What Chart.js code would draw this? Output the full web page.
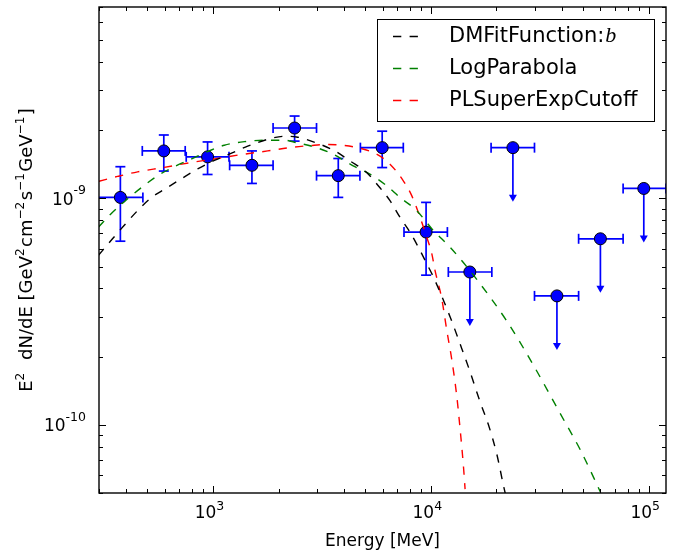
<!DOCTYPE html>
<html>
<head>
<meta charset="utf-8">
<script src="https://cdn.jsdelivr.net/npm/chart.js@4.4.1/dist/chart.umd.min.js"></script>
<style>
  body { margin: 0; background: #fff; }
  #wrap { width: 678px; height: 552px; }
</style>
</head>
<body>
<div id="wrap"><canvas id="sedChart" width="678" height="552"></canvas></div>
<script>
// flux points (MeV, GeV cm^-2 s^-1)
const pointEnergy = [376, 595, 945, 1510, 2370, 3760, 5980, 9510, 15100, 23800, 37900, 60000, 94900];
const pointFlux   = [1.01e-9, 1.62e-9, 1.525e-9, 1.40e-9, 2.045e-9, 1.26e-9, 1.675e-9, 7.1e-10, 4.73e-10, 1.675e-9, 3.71e-10, 6.63e-10, 1.106e-9];
const energyLow   = [296, 474, 754, 1193, 1888, 2988, 4750, 7530, 12030, 18900, 29900, 47660, 76270];
const energyHigh  = [477, 746, 1185, 1888, 2988, 4726, 7475, 11910, 19050, 29900, 47660, 76270, 120000];
const fluxLow     = [6.47e-10, 1.32e-9, 1.275e-9, 1.164e-9, 1.79e-9, 1.01e-9, 1.368e-9, 4.58e-10, null, null, null, null, null];
const fluxHigh    = [1.38e-9, 1.905e-9, 1.775e-9, 1.62e-9, 2.31e-9, 1.50e-9, 1.98e-9, 9.6e-10, null, null, null, null, null];
const isUpperLimit = [false, false, false, false, false, false, false, false, true, true, true, true, true];

// model curves
const dmfitEnergy = [298, 346, 391, 451, 519, 608, 713, 851, 1015, 1210, 1444, 1848, 2130, 2418, 3095, 3627, 4251, 5074, 5737, 6494, 7218, 8025, 8760, 9575, 10270, 12250, 13870, 15150, 16840, 18380, 20090, 21540, 22500];
const dmfitFlux   = [5.6e-10, 6.63e-10, 7.59e-10, 8.83e-10, 1.004e-9, 1.106e-9, 1.217e-9, 1.35e-9, 1.47e-9, 1.58e-9, 1.70e-9, 1.84e-9, 1.88e-9, 1.867e-9, 1.734e-9, 1.62e-9, 1.464e-9, 1.301e-9, 1.137e-9, 9.77e-10, 8.25e-10, 7.09e-10, 6.09e-10, 5.15e-10, 4.5e-10, 3.0e-10, 2.17e-10, 1.71e-10, 1.26e-10, 1.0e-10, 7.4e-11, 5.4e-11, 4.5e-11];

const logParEnergy = [298, 340, 405, 475, 557, 676, 792, 945, 1128, 1394, 1723, 2130, 2418, 2988, 3563, 4402, 5254, 6270, 7218, 8614, 10270, 12250, 15690, 22330, 29600, 39270, 48530, 59970];
const logParFlux   = [7.46e-10, 8.54e-10, 9.94e-10, 1.126e-9, 1.258e-9, 1.392e-9, 1.49e-9, 1.609e-9, 1.717e-9, 1.78e-9, 1.806e-9, 1.806e-9, 1.762e-9, 1.675e-9, 1.567e-9, 1.392e-9, 1.28e-9, 1.137e-9, 1.01e-9, 8.83e-10, 7.21e-10, 6.09e-10, 4.58e-10, 2.87e-10, 1.83e-10, 1.12e-10, 7.75e-11, 5.06e-11];

const plsecEnergy = [300, 365, 451, 598, 792, 1051, 1345, 1784, 2294, 2784, 3300, 3824, 4726, 5640, 6494, 7475, 8171, 8921, 9575, 10100, 10450, 11220, 11830, 12480, 13150, 13630, 14110, 14360];
const plsecFlux   = [1.19e-9, 1.25e-9, 1.31e-9, 1.37e-9, 1.44e-9, 1.50e-9, 1.56e-9, 1.62e-9, 1.68e-9, 1.71e-9, 1.73e-9, 1.72e-9, 1.665e-9, 1.567e-9, 1.416e-9, 1.196e-9, 1.028e-9, 8.25e-10, 6.74e-10, 5.7e-10, 4.81e-10, 3.61e-10, 2.62e-10, 1.94e-10, 1.34e-10, 9.54e-11, 6.58e-11, 5.2e-11];

// axes
const xMajorTicks = [1e3, 1e4, 1e5];
const xTickLabels = ['10^3', '10^4', '10^5'];
const yMajorTicks = [1e-10, 1e-9];
const yTickLabels = ['10^-10', '10^-9'];

const FONT = "'DejaVu Sans', 'Liberation Sans', sans-serif";
const BLUE = '#0000ff';
const DASH = [8.3, 8.3];

const toXY = (xs, ys) => xs.map((v, i) => ({ x: v, y: ys[i] }));

function logTicks(min, max) {
    const out = [];
    for (let e = Math.floor(Math.log10(min)); e <= Math.ceil(Math.log10(max)); e++) {
        for (let m = 1; m < 10; m++) {
            const v = m * Math.pow(10, e);
            if (v >= min * 0.999 && v <= max * 1.001) out.push({ v, major: m === 1 });
        }
    }
    return out;
}

function seg(ctx, x1, y1, x2, y2) {
    ctx.beginPath(); ctx.moveTo(x1, y1); ctx.lineTo(x2, y2); ctx.stroke();
}

// draws "10^n" as base + raised exponent
function drawPow(ctx, label, x, baseline, align, raise) {
    const [base, exp] = label.split('^');
    const bf = '17px ' + FONT, ef = '12.5px ' + FONT;
    ctx.font = bf; const wb = ctx.measureText(base).width;
    ctx.font = ef; const we = ctx.measureText(exp).width;
    let x0 = align === 'right' ? x - wb - we : x - (wb + we) / 2;
    ctx.textAlign = 'left'; ctx.textBaseline = 'alphabetic';
    ctx.font = bf; ctx.fillText(base, x0, baseline);
    ctx.font = ef; ctx.fillText(exp, x0 + wb, baseline - raise);
}

const background = {
    id: 'background',
    beforeDraw(chart) {
        const { ctx, width, height } = chart;
        ctx.save(); ctx.fillStyle = '#fff'; ctx.fillRect(0, 0, width, height); ctx.restore();
    }
};

// error bars and upper limit arrows, under the markers
const errorBars = {
    id: 'errorBars',
    beforeDatasetsDraw(chart) {
        const { ctx, chartArea: a, scales: { x, y } } = chart;
        ctx.save();
        ctx.beginPath(); ctx.rect(a.left, a.top, a.right - a.left, a.bottom - a.top); ctx.clip();
        ctx.strokeStyle = BLUE; ctx.fillStyle = BLUE; ctx.lineWidth = 1.7;
        const cap = 5;
        pointEnergy.forEach((e, i) => {
            const px = x.getPixelForValue(e), py = y.getPixelForValue(pointFlux[i]);
            const xl = x.getPixelForValue(energyLow[i]), xr = x.getPixelForValue(energyHigh[i]);
            seg(ctx, xl, py, xr, py);
            seg(ctx, xl, py - cap, xl, py + cap);
            seg(ctx, xr, py - cap, xr, py + cap);
            if (isUpperLimit[i]) {
                const tip = py + 54;
                seg(ctx, px, py, px, tip - 6);
                ctx.beginPath();
                ctx.moveTo(px - 4, tip - 7); ctx.lineTo(px + 4, tip - 7); ctx.lineTo(px, tip);
                ctx.closePath(); ctx.fill();
            } else {
                const yt = y.getPixelForValue(fluxHigh[i]), yb = y.getPixelForValue(fluxLow[i]);
                seg(ctx, px, yt, px, yb);
                seg(ctx, px - cap, yt, px + cap, yt);
                seg(ctx, px - cap, yb, px + cap, yb);
            }
        });
        ctx.restore();
    }
};

// frame, inward ticks on all sides, tick labels and axis titles
const axesFrame = {
    id: 'axesFrame',
    afterDatasetsDraw(chart) {
        const { ctx, chartArea: a, scales: { x, y } } = chart;
        ctx.save();
        ctx.strokeStyle = '#000'; ctx.lineWidth = 1;
        logTicks(x.min, x.max).forEach(t => {
            const p = Math.round(x.getPixelForValue(t.v)) + 0.5, len = t.major ? 7 : 4;
            seg(ctx, p, a.bottom, p, a.bottom - len);
            seg(ctx, p, a.top, p, a.top + len);
        });
        logTicks(y.min, y.max).forEach(t => {
            const p = Math.round(y.getPixelForValue(t.v)) + 0.5, len = t.major ? 7 : 4;
            seg(ctx, a.left, p, a.left + len, p);
            seg(ctx, a.right, p, a.right - len, p);
        });
        ctx.lineWidth = 1.4;
        ctx.strokeRect(a.left, a.top, a.right - a.left, a.bottom - a.top);

        ctx.fillStyle = '#000';
        xMajorTicks.forEach((v, i) => {
            drawPow(ctx, xTickLabels[i], x.getPixelForValue(v) - 3.5, a.bottom + 25, 'center', 8.5);
        });
        yMajorTicks.forEach((v, i) => {
            drawPow(ctx, yTickLabels[i], a.left - 13, y.getPixelForValue(v) + 6.5, 'right', 10.5);
        });

        // x title
        ctx.font = '17px ' + FONT; ctx.textAlign = 'center'; ctx.textBaseline = 'alphabetic';
        ctx.fillText('Energy [MeV]', (a.left + a.right) / 2, 546);

        // y title with superscripts
        const parts = [['E', 0], ['2', 1], ['  dN/dE [GeV', 0], ['2', 1], ['cm', 0], ['\u22122', 1],
                       ['s', 0], ['\u22121', 1], ['GeV', 0], ['\u22121', 1], [']', 0]];
        const fb = '18px ' + FONT, fs = '12px ' + FONT;
        const gap = 1.5;
        let total = 0;
        parts.forEach(p => { ctx.font = p[1] ? fs : fb; total += ctx.measureText(p[0]).width + (p[1] ? gap : 0); });
        ctx.translate(32, (a.top + a.bottom) / 2);
        ctx.rotate(-Math.PI / 2);
        ctx.textAlign = 'left';
        let cx = -total / 2;
        parts.forEach(p => {
            ctx.font = p[1] ? fs : fb;
            ctx.fillText(p[0], cx, p[1] ? -8.5 : 0);
            cx += ctx.measureText(p[0]).width + (p[1] ? gap : 0);
        });
        ctx.restore();
    }
};

// legend box in the upper right corner
const legendBox = {
    id: 'legendBox',
    afterDraw(chart) {
        const { ctx, chartArea: a } = chart;
        const right = a.right - 12, top = a.top + 12, w = 277, h = 102, left = right - w;
        ctx.save();
        ctx.fillStyle = '#fff'; ctx.fillRect(left, top, w, h);
        ctx.strokeStyle = '#000'; ctx.lineWidth = 1; ctx.strokeRect(left + 0.5, top + 0.5, w, h);
        chart.data.datasets.filter(d => d.showLine).forEach((d, i) => {
            const yy = top + 17.5 + i * 32;
            ctx.strokeStyle = d.borderColor; ctx.lineWidth = 1.4; ctx.setLineDash(DASH);
            seg(ctx, left + 16, yy, left + 45, yy);
            ctx.setLineDash([]);
            ctx.fillStyle = '#000'; ctx.textBaseline = 'middle'; ctx.textAlign = 'left';
            const tx = left + 72;
            if (d.label.endsWith(':b')) {
                const head = d.label.slice(0, -1);
                ctx.font = '21px ' + FONT; ctx.fillText(head, tx, yy);
                const hw = ctx.measureText(head).width;
                ctx.font = "italic 22px 'Liberation Serif', 'DejaVu Serif', serif";
                ctx.fillText('b', tx + hw + 1, yy);
            } else {
                ctx.font = '21px ' + FONT; ctx.fillText(d.label, tx, yy);
            }
        });
        ctx.restore();
    }
};

const curve = (label, xs, ys, color) => ({
    label, data: toXY(xs, ys), showLine: true, fill: false,
    borderColor: color, borderWidth: 1.4, borderDash: DASH,
    pointRadius: 0, cubicInterpolationMode: 'monotone', order: 1
});

new Chart(document.getElementById('sedChart'), {
    type: 'scatter',
    data: {
        datasets: [
            curve('DMFitFunction:b', dmfitEnergy, dmfitFlux, '#000000'),
            curve('LogParabola', logParEnergy, logParFlux, '#008000'),
            curve('PLSuperExpCutoff', plsecEnergy, plsecFlux, '#ff0000'),
            {
                label: 'Flux points', data: toXY(pointEnergy, pointFlux), showLine: false,
                pointRadius: 6, pointBackgroundColor: BLUE, pointBorderColor: '#000',
                pointBorderWidth: 1, order: 4
            }
        ]
    },
    options: {
        responsive: false,
        animation: false,
        events: [],
        layout: { padding: { left: 0, right: 12, top: 5, bottom: 0 } },
        plugins: { legend: { display: false }, tooltip: { enabled: false } },
        scales: {
            x: {
                type: 'logarithmic', min: 300, max: 120000,
                grid: { display: false }, border: { display: false },
                ticks: { display: false },
                afterFit(s) { s.height = 59; }
            },
            y: {
                type: 'logarithmic', min: 5e-11, max: 7e-9,
                grid: { display: false }, border: { display: false },
                ticks: { display: false },
                afterFit(s) { s.width = 99; }
            }
        }
    },
    plugins: [background, errorBars, axesFrame, legendBox]
});
</script>
</body>
</html>
